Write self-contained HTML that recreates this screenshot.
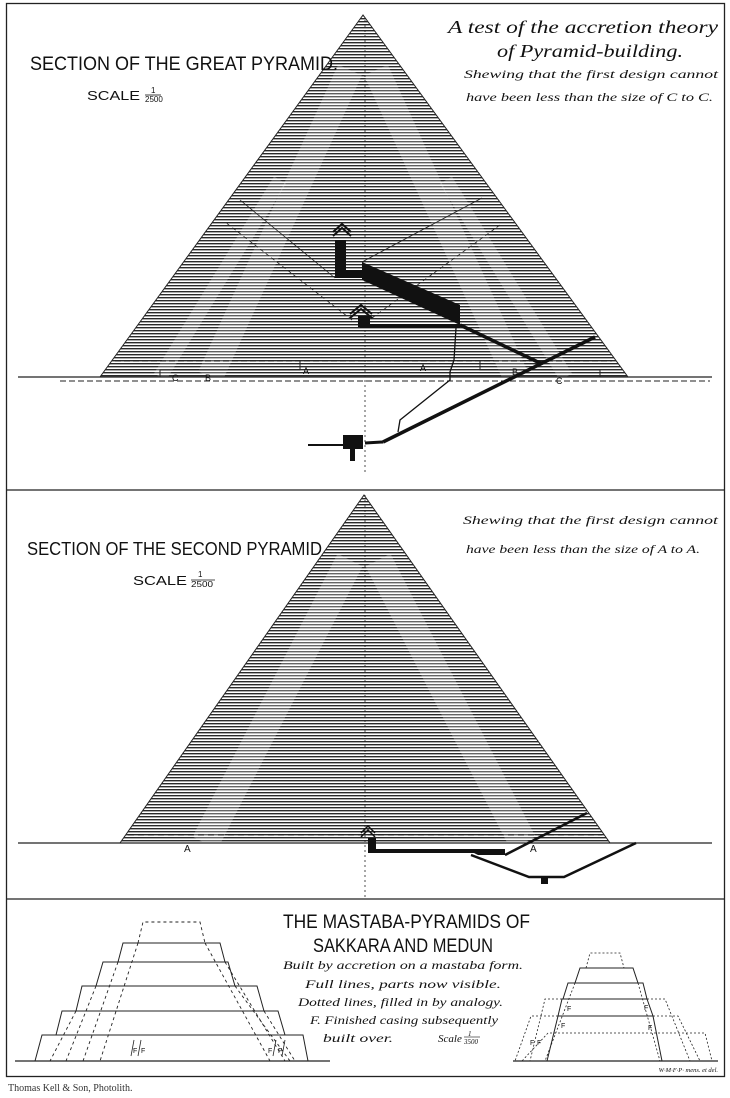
<!DOCTYPE html>
<html><head><meta charset="utf-8"><style>
html,body{margin:0;padding:0;background:#fff;}
svg{display:block;}
.t{font-family:"Liberation Sans",sans-serif;fill:#111;}
.i{font-family:"Liberation Serif",serif;font-style:italic;fill:#111;}
</style></head><body>
<svg width="730" height="1098" viewBox="0 0 730 1098" xmlns="http://www.w3.org/2000/svg">
<defs>
<pattern id="h" width="6" height="3" patternUnits="userSpaceOnUse">
<rect width="6" height="3" fill="#fff"/>
<rect y="0" width="6" height="1.4" fill="#2a2a2a"/>
</pattern>
<clipPath id="c1"><polygon points="363,15 100,377 628,377"/></clipPath>
<clipPath id="c2"><polygon points="364,495 120,843 610,843"/></clipPath>
</defs>
<rect x="6.5" y="3.5" width="718" height="1073" fill="none" stroke="#222" stroke-width="1.3"/>
<line x1="6" y1="490" x2="725" y2="490" stroke="#222" stroke-width="1.3"/>
<line x1="6" y1="899" x2="725" y2="899" stroke="#222" stroke-width="1.3"/>

<polygon points="363,15 100,377 628,377" fill="url(#h)"/>
<g clip-path="url(#c1)" stroke="#fff" stroke-opacity="0.25" fill="none">
<line x1="350" y1="70" x2="210" y2="377" stroke-width="26"/>
<line x1="376" y1="70" x2="516" y2="377" stroke-width="26"/>
<line x1="280" y1="180" x2="160" y2="377" stroke-width="14"/>
<line x1="446" y1="180" x2="566" y2="377" stroke-width="14"/>
</g>
<polygon points="363,15 100,377 628,377" fill="none" stroke="#222" stroke-width="1"/>
<line x1="18" y1="377" x2="712" y2="377" stroke="#222" stroke-width="1.3"/>
<line x1="60" y1="381" x2="710" y2="381" stroke="#222" stroke-width="1" stroke-dasharray="6,3"/>
<line x1="115" y1="361" x2="612" y2="361" stroke="#222" stroke-width="1" stroke-dasharray="6,3"/>
<polyline points="160,377 160,370 300,370 300,361" fill="none" stroke="#222" stroke-width="1"/>
<polyline points="480,361 480,370 600,370 600,377" fill="none" stroke="#222" stroke-width="1"/>
<text class="t" x="172" y="381" font-size="9">C</text>
<text class="t" x="205" y="381" font-size="9">B</text>
<text class="t" x="303" y="374" font-size="9">A</text>
<text class="t" x="420" y="371" font-size="9">A</text>
<text class="t" x="512" y="375" font-size="9">B</text>
<text class="t" x="556" y="384" font-size="9">C</text>
<line x1="365" y1="20" x2="365" y2="475" stroke="#222" stroke-width="0.8" stroke-dasharray="2,3"/>
<g stroke="#222" stroke-width="0.8" fill="none">
<line x1="335" y1="278" x2="240" y2="200"/>
<line x1="362" y1="262" x2="482" y2="198"/>
<line x1="352" y1="320" x2="225" y2="222" stroke-dasharray="4,3"/>
<line x1="372" y1="318" x2="500" y2="225" stroke-dasharray="4,3"/>
</g>
<polygon points="362,262 460,305 460,325 362,280" fill="#111"/>
<rect x="335" y="240" width="11" height="38" fill="#111"/>
<rect x="346" y="270" width="16" height="8" fill="#111"/>
<g stroke="#111" stroke-width="2" fill="none">
<polyline points="333,236 342,228 351,236"/><polyline points="333,232 342,224 351,232"/>
<polyline points="350,318 361,309 372,318"/><polyline points="350,314 361,305 372,314"/>
</g>
<rect x="358" y="316" width="12" height="11" fill="#111"/>
<rect x="360" y="324" width="100" height="4" fill="#111"/>
<line x1="460" y1="325" x2="542" y2="364" stroke="#111" stroke-width="3.5"/>
<line x1="595" y1="337" x2="383" y2="442" stroke="#111" stroke-width="3.5"/>
<polyline points="383,442 365,443" stroke="#111" stroke-width="3" fill="none"/>
<rect x="343" y="435" width="20" height="14" fill="#111"/>
<rect x="350" y="449" width="5" height="12" fill="#111"/>
<line x1="308" y1="445" x2="343" y2="445" stroke="#111" stroke-width="2"/>
<polyline points="456,328 454,360 450,372 450,380 400,420 398,432" fill="none" stroke="#111" stroke-width="1.3"/>

<text class="t" x="30" y="70" font-size="19" textLength="308" lengthAdjust="spacingAndGlyphs">SECTION OF THE GREAT PYRAMID.</text>
<text class="t" x="87" y="100" font-size="13" textLength="53" lengthAdjust="spacingAndGlyphs">SCALE</text>
<text class="t" x="151" y="93" font-size="8">1</text>
<line x1="145" y1="95" x2="161" y2="95" stroke="#111" stroke-width="0.8"/>
<text class="t" x="145" y="102" font-size="8">2500</text>
<text class="i" x="448" y="33" font-size="18" textLength="270" lengthAdjust="spacingAndGlyphs">A test of the accretion theory</text>
<text class="i" x="497" y="57" font-size="18" textLength="186" lengthAdjust="spacingAndGlyphs">of  Pyramid-building.</text>
<text class="i" x="464" y="78" font-size="12" textLength="254" lengthAdjust="spacingAndGlyphs">Shewing that the first design cannot</text>
<text class="i" x="466" y="101" font-size="12" textLength="247" lengthAdjust="spacingAndGlyphs">have been less than the size of C to C.</text>

<polygon points="364,495 120,843 610,843" fill="url(#h)"/>
<g clip-path="url(#c2)" stroke="#fff" stroke-opacity="0.28" fill="none">
<line x1="350" y1="560" x2="205" y2="843" stroke-width="28"/>
<line x1="378" y1="560" x2="523" y2="843" stroke-width="28"/>
</g>
<polygon points="364,495 120,843 610,843" fill="none" stroke="#222" stroke-width="1"/>
<line x1="18" y1="843" x2="712" y2="843" stroke="#222" stroke-width="1.3"/>
<line x1="128" y1="835" x2="602" y2="835" stroke="#222" stroke-width="1" stroke-dasharray="6,4"/>
<line x1="365" y1="495" x2="365" y2="898" stroke="#222" stroke-width="0.8" stroke-dasharray="2,3"/>
<text class="t" x="184" y="852" font-size="10">A</text>
<text class="t" x="530" y="852" font-size="10">A</text>
<g stroke="#111" stroke-width="1.5" fill="none">
<polyline points="361,837 368,830 375,837"/><polyline points="361,833 368,826 375,833"/>
</g>
<rect x="368" y="838" width="8" height="13" fill="#111"/>
<rect x="368" y="849" width="137" height="4" fill="#111"/>
<polygon points="470,851 505,851 505,855 478,855" fill="#111"/>
<line x1="505" y1="855" x2="587" y2="813" stroke="#111" stroke-width="2.5"/>
<polyline points="471,855 529,877 564,877 636,843" fill="none" stroke="#111" stroke-width="2.5"/>
<rect x="541" y="877" width="7" height="7" fill="#111"/>
<text class="t" x="27" y="555" font-size="18" textLength="295" lengthAdjust="spacingAndGlyphs">SECTION OF THE SECOND PYRAMID</text>
<text class="t" x="133" y="585" font-size="13" textLength="54" lengthAdjust="spacingAndGlyphs">SCALE</text>
<text class="t" x="198" y="577" font-size="8">1</text>
<line x1="191" y1="580" x2="215" y2="580" stroke="#111" stroke-width="0.8"/>
<text class="t" x="191" y="587" font-size="8" textLength="22" lengthAdjust="spacingAndGlyphs">2500</text>
<text class="i" x="463" y="524" font-size="12" textLength="255" lengthAdjust="spacingAndGlyphs">Shewing that the first design cannot</text>
<text class="i" x="466" y="553" font-size="12" textLength="234" lengthAdjust="spacingAndGlyphs">have been less than the size of A to A.</text>

<text class="t" x="283" y="928" font-size="19" textLength="247" lengthAdjust="spacingAndGlyphs">THE MASTABA-PYRAMIDS OF</text>
<text class="t" x="313" y="952" font-size="19" textLength="180" lengthAdjust="spacingAndGlyphs">SAKKARA AND MEDUN</text>
<text class="i" x="283" y="969" font-size="12" textLength="240" lengthAdjust="spacingAndGlyphs">Built by accretion on a mastaba form.</text>
<text class="i" x="305" y="988" font-size="12" textLength="196" lengthAdjust="spacingAndGlyphs">Full lines, parts now visible.</text>
<text class="i" x="298" y="1006" font-size="12" textLength="205" lengthAdjust="spacingAndGlyphs">Dotted lines, filled in by analogy.</text>
<text class="i" x="310" y="1024" font-size="12" textLength="188" lengthAdjust="spacingAndGlyphs">F. Finished casing subsequently</text>
<text class="i" x="323" y="1042" font-size="12" textLength="70" lengthAdjust="spacingAndGlyphs">built over.</text>
<text class="i" x="438" y="1042" font-size="11">Scale</text>
<text class="i" x="468" y="1036" font-size="7">1</text>
<line x1="464" y1="1037" x2="480" y2="1037" stroke="#111" stroke-width="0.6"/>
<text class="i" x="464" y="1044" font-size="7">3500</text>

<g stroke="#222" stroke-width="1" fill="none">
<line x1="15" y1="1061" x2="330" y2="1061" stroke-width="1.3"/>
<polygon points="123,943 220,943 225,962 118,962"/>
<polygon points="103,962 228,962 235,986 96,986"/>
<polygon points="82,986 257,986 264,1011 76,1011"/>
<polygon points="62,1011 278,1011 285,1035 56,1035"/>
<polygon points="42,1035 303,1035 308,1061 35,1061"/>
</g>
<g stroke="#222" stroke-width="0.9" fill="none" stroke-dasharray="3,3">
<polyline points="138,943 143,922 200,922 205,943"/>
<line x1="138" y1="943" x2="100" y2="1061"/>
<line x1="118" y1="962" x2="83" y2="1061"/>
<line x1="96" y1="986" x2="66" y2="1061"/>
<line x1="76" y1="1011" x2="50" y2="1061"/>
<line x1="205" y1="943" x2="270" y2="1061"/>
<line x1="225" y1="962" x2="285" y2="1061"/>
<line x1="235" y1="986" x2="290" y2="1061"/>
<line x1="264" y1="1011" x2="295" y2="1061"/>
</g>
<g stroke="#222" stroke-width="0.8">
<line x1="134" y1="1040" x2="131" y2="1056"/><line x1="141" y1="1040" x2="138" y2="1056"/>
<line x1="276" y1="1040" x2="273" y2="1056"/><line x1="285" y1="1040" x2="282" y2="1056"/>
</g>
<text class="t" x="133" y="1053" font-size="7">F</text><text class="t" x="141" y="1053" font-size="7">F</text>
<text class="t" x="268" y="1053" font-size="7">F</text><text class="t" x="278" y="1053" font-size="7">F</text>

<g stroke="#222" stroke-width="1" fill="none">
<line x1="513" y1="1061" x2="718" y2="1061" stroke-width="1.3"/>
<polygon points="580,968 633,968 638,983 575,983"/>
<polygon points="568,983 643,983 647,999 563,999"/>
<polygon points="562,999 647,999 653,1016 558,1016"/>
<polyline points="558,1016 547,1061"/><polyline points="653,1016 662,1061"/>
<line x1="558" y1="1016" x2="653" y2="1016"/>
</g>
<g stroke="#222" stroke-width="0.8" fill="none" stroke-dasharray="2,2">
<polyline points="586,968 590,953 620,953 624,968"/>
<polyline points="562,999 545,999 530,1061"/><polyline points="647,999 665,999 690,1061"/>
<polyline points="558,1016 531,1016 515,1061"/><polyline points="653,1016 678,1016 700,1061"/>
<polyline points="550,1033 705,1033 712,1061"/>
<line x1="548" y1="1033" x2="522" y2="1061"/>
<line x1="575" y1="983" x2="545" y2="1061"/>
<line x1="638" y1="983" x2="660" y2="1061"/>
</g>
<text class="t" x="567" y="1011" font-size="7">F</text><text class="t" x="561" y="1028" font-size="7">F</text>
<text class="t" x="644" y="1010" font-size="7">F</text><text class="t" x="648" y="1030" font-size="7">F</text>
<text class="t" x="530" y="1045" font-size="7">F</text><text class="t" x="537" y="1045" font-size="7">F</text>

<text class="i" x="718" y="1072" font-size="6.5" text-anchor="end">W·M·F·P· mens. et del.</text>
<text x="8" y="1091" font-family="Liberation Serif,serif" font-size="10" fill="#333">Thomas Kell &amp; Son, Photolith.</text>
</svg>
</body></html>
